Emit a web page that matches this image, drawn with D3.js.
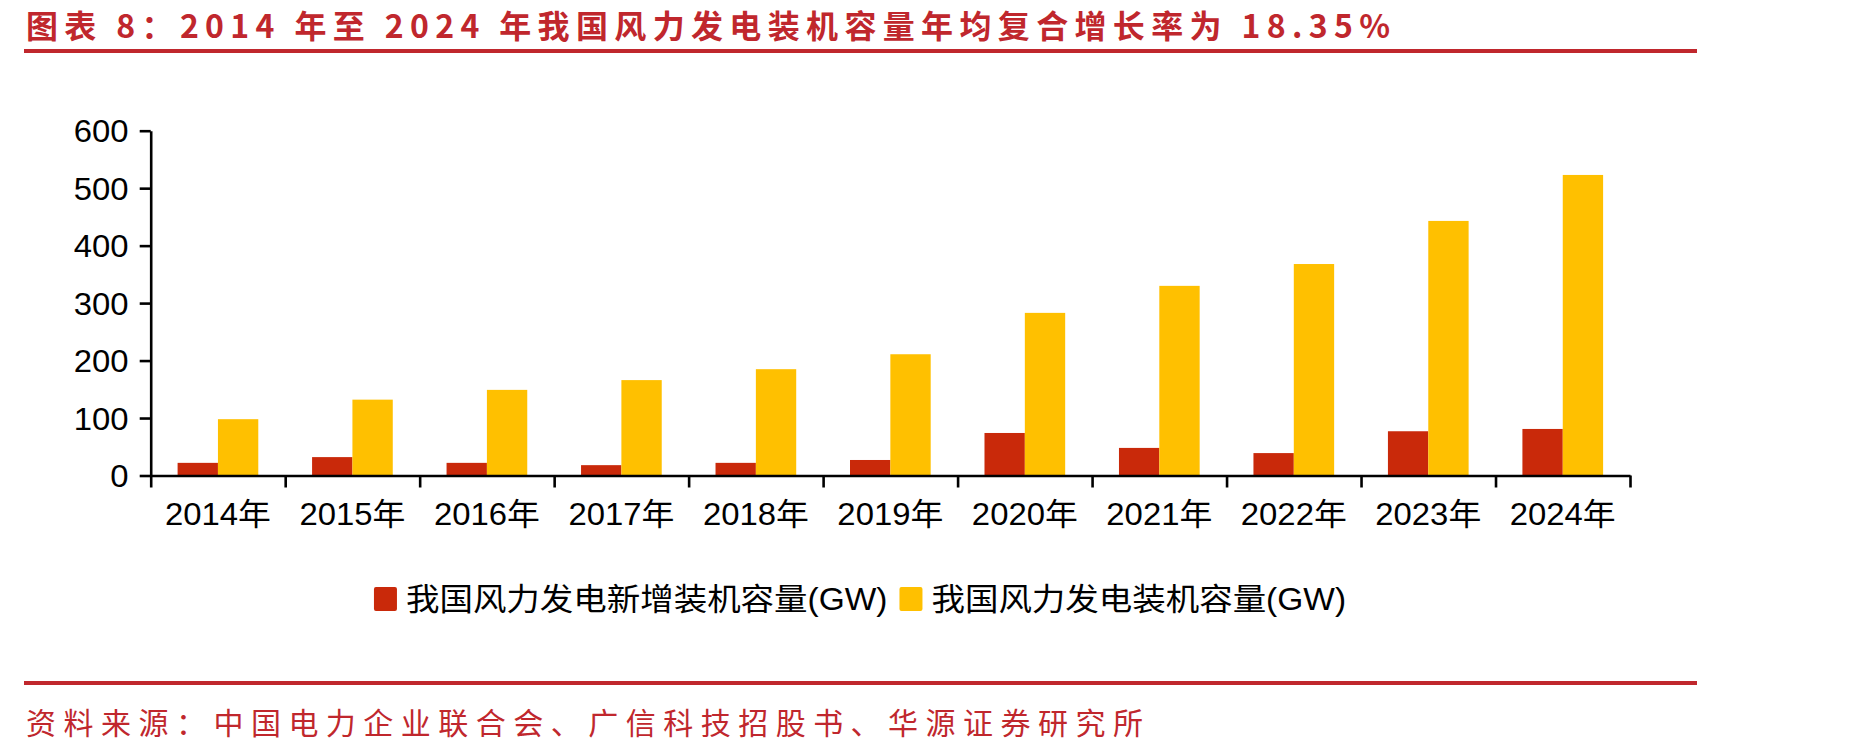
<!DOCTYPE html>
<html>
<head>
<meta charset="utf-8">
<script src="https://cdn.jsdelivr.net/npm/d3@7"></script>
<style>
  body { margin: 0; background: #fff; }
  svg { display: block; }
</style>
</head>
<body>
<div id="draw"></div>
<script>
var W = 1852, H = 756;

// chart data (GW)
var years = ['2014年', '2015年', '2016年', '2017年', '2018年', '2019年', '2020年', '2021年', '2022年', '2023年', '2024年'];
var newAdded = [22, 32, 22, 18, 22, 27, 74, 48, 39, 77, 81];
var totalCap = [98, 132, 149, 166, 185, 211, 283, 330, 368, 443, 523];
var seriesNames = ['我国风力发电新增装机容量(GW)', '我国风力发电装机容量(GW)'];
var seriesColors = ['#C9290A', '#FFC000'];
var yTicks = [0, 100, 200, 300, 400, 500, 600];

var titleText = '图表 8：2014 年至 2024 年我国风力发电装机容量年均复合增长率为 18.35%';
var sourceText = '资料来源：中国电力企业联合会、广信科技招股书、华源证券研究所';

var RED = '#C0272D';
var FONT = 'Arial, "Liberation Sans", "Noto Sans CJK SC", sans-serif';

var svg = d3.select('#draw').append('svg')
  .attr('width', W)
  .attr('height', H);

svg.append('rect').attr('width', W).attr('height', H).attr('fill', '#fff');

// header and footer
svg.append('text')
  .attr('x', 26)
  .attr('y', 38)
  .attr('fill', RED)
  .attr('font-family', '"Noto Sans CJK SC", sans-serif')
  .attr('font-weight', 'bold')
  .attr('font-size', 32)
  .attr('textLength', 1364)
  .attr('lengthAdjust', 'spacing')
  .text(titleText);

svg.append('rect').attr('x', 24).attr('y', 49).attr('width', 1673).attr('height', 4).attr('fill', RED);
svg.append('rect').attr('x', 24).attr('y', 681).attr('width', 1673).attr('height', 4).attr('fill', RED);

svg.append('text')
  .attr('x', 26)
  .attr('y', 734)
  .attr('fill', RED)
  .attr('font-family', '"Noto Sans CJK SC", sans-serif')
  .attr('font-size', 30)
  .attr('textLength', 1117)
  .attr('lengthAdjust', 'spacing')
  .text(sourceText);

// plot area
var x0 = 150.7, x1 = 1630, yBase = 475.5, yTop = 130.7;

var x = d3.scaleBand().domain(years).range([x0, x1]).padding(0);
var xs = d3.scaleBand().domain([0, 1]).range([x.bandwidth() * 0.2, x.bandwidth() * 0.8]);
var y = d3.scaleLinear().domain([0, 600]).range([yBase, yTop]);

var g = svg.append('g');

// bars
var series = [newAdded, totalCap];
series.forEach(function(vals, si) {
  g.selectAll('.bar' + si)
    .data(vals)
    .enter().append('rect')
    .attr('class', 'bar' + si)
    .attr('x', function(d, i) { return x(years[i]) + xs(si); })
    .attr('y', function(d) { return y(d); })
    .attr('width', xs.bandwidth())
    .attr('height', function(d) { return y(0) - y(d); })
    .attr('fill', seriesColors[si]);
});

// y axis
var yAxis = g.append('g')
  .attr('transform', 'translate(' + x0 + ',0)')
  .call(d3.axisLeft(y).tickValues(yTicks).tickSize(11).tickPadding(10).tickSizeOuter(0));

// x axis, ticks at the band edges
var xEdge = d3.scaleLinear().domain([0, years.length]).range([x0, x1]);
var xAxis = g.append('g')
  .attr('transform', 'translate(0,' + yBase + ')')
  .call(d3.axisBottom(xEdge).tickValues(d3.range(years.length + 1)).tickSize(12).tickFormat('').tickSizeOuter(0));

var xLabels = g.append('g')
  .attr('transform', 'translate(0,' + yBase + ')')
  .call(d3.axisBottom(x).tickSize(0).tickPadding(27));
xLabels.select('.domain').remove();

[yAxis, xAxis].forEach(function(a) {
  a.selectAll('path, line').attr('stroke', '#000').attr('stroke-width', 2.6);
});

// the chart text is a touch wide in the original
yAxis.selectAll('text')
  .attr('fill', '#000')
  .attr('font-family', FONT)
  .attr('font-size', 31)
  .attr('dy', '0.36em')
  .attr('transform', 'scale(1.06,1)');

xLabels.selectAll('text')
  .attr('fill', '#000')
  .attr('font-family', FONT)
  .attr('font-size', 31)
  .attr('transform', 'scale(1.06,1)');

// legend
var leg = svg.append('g');
var lx = 0, ls = 1.08;
seriesNames.forEach(function(name, i) {
  leg.append('rect')
    .attr('x', lx)
    .attr('y', 587)
    .attr('width', 23)
    .attr('height', 24)
    .attr('rx', 2)
    .attr('fill', seriesColors[i]);
  var t = leg.append('text')
    .attr('transform', 'translate(' + (lx + 32) + ',610) scale(' + ls + ',1)')
    .attr('font-family', FONT)
    .attr('font-size', 31)
    .attr('fill', '#000')
    .text(name);
  lx += 32 + t.node().getComputedTextLength() * ls + 12;
});
var legW = lx - 12;
leg.attr('transform', 'translate(' + (860 - legW / 2) + ',0)');
</script>
</body>
</html>
